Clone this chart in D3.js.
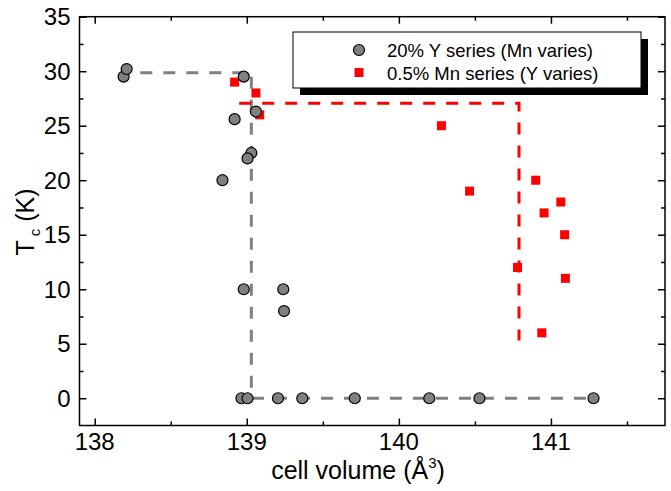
<!DOCTYPE html>
<html>
<head>
<meta charset="utf-8">
<script src="https://cdn.jsdelivr.net/npm/d3@7"></script>
<style>
  body { margin: 0; background: #fff; }
  svg text { font-family: "Liberation Sans", Arial, sans-serif; fill: #000; }
</style>
</head>
<body>
<svg id="chart" width="671" height="491"></svg>
<script>
// 20% Y series (Mn varies): volume (Å^3) / Tc (K)
const greyVol = [138.19, 138.21, 138.98, 138.92, 139.06, 139.03, 139.005, 138.84,
  138.98, 139.24, 139.245, 138.965, 139.005, 139.205, 139.365, 139.71, 140.2, 140.53, 141.28];
const greyTc = [29.5, 30.2, 29.5, 25.6, 26.3, 22.5, 22.0, 20.0,
  10.0, 10.0, 8.0, 0, 0, 0, 0, 0, 0, 0, 0];

// 0.5% Mn series (Y varies)
const redVol = [138.92, 139.06, 139.085, 140.28, 140.465, 140.9, 141.065, 140.955,
  141.09, 140.78, 141.095, 140.94];
const redTc = [29.0, 28.0, 26.0, 25.0, 19.0, 20.0, 18.0, 17.0, 15.0, 12.0, 11.0, 6.0];

// guide lines (dashed)
const greyGuide = [[138.3, 29.85], [139.03, 29.85], [139.03, 0], [141.28, 0]];
const redGuide = [[138.95, 27.05], [140.79, 27.05], [140.79, 5.3]];

const xTicks = [138, 139, 140, 141];
const yTicks = [0, 5, 10, 15, 20, 25, 30, 35];
const legendLabels = ['20% Y series (Mn varies)', '0.5% Mn series (Y varies)'];

const svg = d3.select('#chart');
const L = 79.5, R = 665, T = 16.7, B = 425.5;

const x = d3.scaleLinear().domain([137.9, 141.75]).range([L, R]);
const y = d3.scaleLinear().domain([-2.5, 35]).range([B, T]);

// ---------------------------------------------------------------- axes
const minorX = d3.range(138.5, 141.75, 1);
const minorY = d3.range(2.5, 35, 5);

function ticks(axis, values, size) {
  return axis.tickValues(values).tickSize(size).tickSizeOuter(0).tickFormat('');
}

// ticks on all four sides, pointing inward
[[d3.axisTop, B], [d3.axisBottom, T]].forEach(([mk, pos]) => {
  svg.append('g').attr('transform', `translate(0,${pos})`).call(ticks(mk(x), xTicks, 7));
  svg.append('g').attr('transform', `translate(0,${pos})`).call(ticks(mk(x), minorX, 4));
});
[[d3.axisRight, L], [d3.axisLeft, R]].forEach(([mk, pos]) => {
  svg.append('g').attr('transform', `translate(${pos},0)`).call(ticks(mk(y), yTicks, 7));
  svg.append('g').attr('transform', `translate(${pos},0)`).call(ticks(mk(y), minorY, 4));
});

svg.selectAll('.domain').remove();
svg.selectAll('.tick line').attr('stroke', '#000').attr('stroke-width', 1.5);

// tick labels
svg.append('g').selectAll('text').data(xTicks).join('text')
  .attr('x', (d) => x(d)).attr('y', B + 24)
  .attr('text-anchor', 'middle').attr('font-size', 24)
  .text((d) => d);
svg.append('g').selectAll('text').data(yTicks).join('text')
  .attr('x', L - 9).attr('y', (d) => y(d) + 8.5)
  .attr('text-anchor', 'end').attr('font-size', 24)
  .text((d) => d);

// frame
svg.append('rect').attr('x', L).attr('y', T).attr('width', R - L).attr('height', B - T)
  .attr('fill', 'none').attr('stroke', '#000').attr('stroke-width', 1.5);

// axis titles
const xt = svg.append('text').attr('x', 358).attr('y', 479)
  .attr('text-anchor', 'middle').attr('font-size', 25);
xt.append('tspan').text('cell volume (Å');
xt.append('tspan').attr('font-size', 15).attr('dy', -11).text('3');
xt.append('tspan').attr('dy', 11).text(')');

const yt = svg.append('text').attr('transform', 'translate(34,222) rotate(-90)')
  .attr('text-anchor', 'middle').attr('font-size', 25);
yt.append('tspan').text('T');
yt.append('tspan').attr('font-size', 15).attr('dx', 4).attr('dy', 6).text('c');
yt.append('tspan').attr('dy', -6).text(' (K)');

// ---------------------------------------------------------------- guides
const line = d3.line().x((d) => x(d[0])).y((d) => y(d[1]));
svg.append('path').attr('d', line(greyGuide))
  .attr('fill', 'none').attr('stroke', '#808080').attr('stroke-width', 3)
  .attr('stroke-dasharray', '12,11');
svg.append('path').attr('d', line(redGuide))
  .attr('fill', 'none').attr('stroke', '#ff0000').attr('stroke-width', 3)
  .attr('stroke-dasharray', '12,11');

// ---------------------------------------------------------------- points
const sq = 9;
svg.append('g').selectAll('rect').data(redVol).join('rect')
  .attr('x', (d) => x(d) - sq / 2)
  .attr('y', (d, i) => y(redTc[i]) - sq / 2)
  .attr('width', sq).attr('height', sq)
  .attr('fill', '#ff0000');

svg.append('g').selectAll('circle').data(greyVol).join('circle')
  .attr('cx', (d) => x(d))
  .attr('cy', (d, i) => y(greyTc[i]))
  .attr('r', 5.5)
  .attr('fill', '#808080').attr('stroke', '#000').attr('stroke-width', 1.2);

// ---------------------------------------------------------------- legend
const lg = svg.append('g');
lg.append('rect').attr('x', 300).attr('y', 39).attr('width', 348).attr('height', 56).attr('fill', '#000');
lg.append('rect').attr('x', 293).attr('y', 32).attr('width', 348).attr('height', 56)
  .attr('fill', '#fff').attr('stroke', '#000').attr('stroke-width', 1);
lg.append('circle').attr('cx', 359).attr('cy', 50).attr('r', 5.5)
  .attr('fill', '#808080').attr('stroke', '#000').attr('stroke-width', 1.2);
lg.append('rect').attr('x', 359 - sq / 2).attr('y', 72.5 - sq / 2)
  .attr('width', sq).attr('height', sq).attr('fill', '#ff0000');
lg.selectAll('text.lab').data(legendLabels).join('text')
  .attr('class', 'lab')
  .attr('x', 387).attr('y', (d, i) => 57 + i * 22.5)
  .attr('font-size', 18.5)
  .text((d) => d);
</script>
</body>
</html>
